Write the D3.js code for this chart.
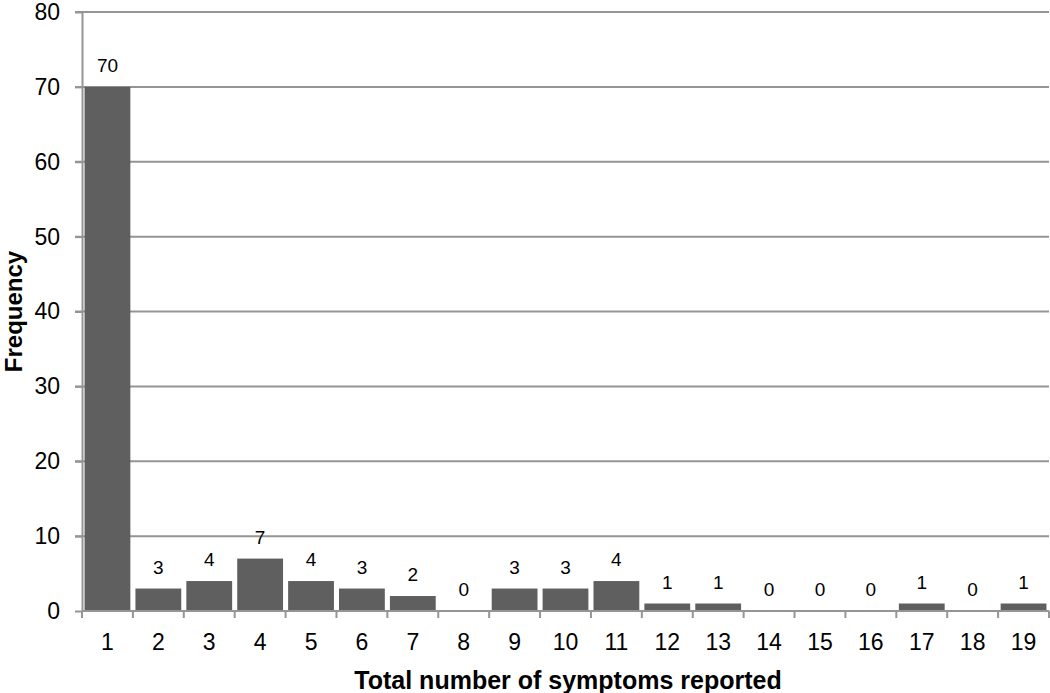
<!DOCTYPE html>
<html>
<head>
<meta charset="utf-8">
<script src="https://cdn.jsdelivr.net/npm/d3@7"></script>
<style>
  body { margin: 0; background: #fff; }
  svg text { font-family: "Liberation Sans", Arial, sans-serif; fill: #000; }
</style>
</head>
<body>
<div id="chart"></div>
<script>
const categories = ['1','2','3','4','5','6','7','8','9','10','11','12','13','14','15','16','17','18','19'];
const frequency = [70, 3, 4, 7, 4, 3, 2, 0, 3, 3, 4, 1, 1, 0, 0, 0, 1, 0, 1];
const yTicks = [0, 10, 20, 30, 40, 50, 60, 70, 80];

const W = 1050, H = 693;
const pad = {l: 82, r: 1, t: 12, b: 82};
const gridColor = '#959595';

const svg = d3.select('#chart').append('svg')
  .attr('width', W).attr('height', H);

const x = d3.scaleBand()
  .domain(categories)
  .range([pad.l, W - pad.r])
  .paddingInner(0.1)
  .paddingOuter(0.05);

const y = d3.scaleLinear()
  .domain([0, 80])
  .range([H - pad.b, pad.t]);

// gridlines
svg.append('g')
  .selectAll('line')
  .data(yTicks.filter(t => t > 0))
  .join('line')
  .attr('x1', pad.l - 7).attr('x2', W - pad.r)
  .attr('y1', d => y(d)).attr('y2', d => y(d))
  .attr('stroke', gridColor)
  .attr('stroke-width', 2);

// bars
svg.append('g')
  .selectAll('rect')
  .data(frequency)
  .join('rect')
  .attr('x', (d, i) => x(categories[i]))
  .attr('y', d => y(d))
  .attr('width', x.bandwidth())
  .attr('height', d => y(0) - y(d))
  .attr('fill', '#5f5f5f');

// value labels
svg.append('g')
  .selectAll('text')
  .data(frequency)
  .join('text')
  .attr('x', (d, i) => x(categories[i]) + x.bandwidth() / 2)
  .attr('y', d => y(d) - 15)
  .attr('text-anchor', 'middle')
  .attr('font-size', 19)
  .text(d => d);

// y axis
const yAxis = svg.append('g')
  .attr('transform', `translate(${pad.l},0)`)
  .call(d3.axisLeft(y).tickValues(yTicks).tickSize(7).tickPadding(15).tickSizeOuter(0));
yAxis.selectAll('text').attr('font-size', 23).style('font-family', '"Liberation Sans", Arial, sans-serif');
yAxis.select('.domain').attr('stroke', gridColor).attr('stroke-width', 2);
yAxis.selectAll('.tick line').attr('stroke', gridColor).attr('stroke-width', 2);

// x axis, ticks sit between categories
const xAxis = svg.append('g')
  .attr('transform', `translate(0,${y(0)})`);
xAxis.append('line')
  .attr('x1', pad.l).attr('x2', W - pad.r)
  .attr('stroke', gridColor).attr('stroke-width', 2);
const edges = categories.map(c => x(c) - x.step() * x.paddingInner() / 2)
  .concat([x(categories[categories.length - 1]) + x.bandwidth() + x.step() * x.paddingInner() / 2]);
xAxis.selectAll('.edge')
  .data(edges)
  .join('line')
  .attr('class', 'edge')
  .attr('x1', d => d).attr('x2', d => d)
  .attr('y1', 0).attr('y2', 7)
  .attr('stroke', gridColor).attr('stroke-width', 2);
xAxis.selectAll('.lbl')
  .data(categories)
  .join('text')
  .attr('class', 'lbl')
  .attr('x', d => x(d) + x.bandwidth() / 2)
  .attr('y', 39)
  .attr('text-anchor', 'middle')
  .attr('font-size', 23)
  .text(d => d);

// axis titles
svg.append('text')
  .attr('x', 568).attr('y', 689)
  .attr('text-anchor', 'middle')
  .attr('font-size', 25)
  .attr('font-weight', 'bold')
  .text('Total number of symptoms reported');

svg.append('text')
  .attr('transform', `translate(22,${(y(0) + y(80)) / 2}) rotate(-90)`)
  .attr('text-anchor', 'middle')
  .attr('font-size', 24)
  .attr('font-weight', 'bold')
  .text('Frequency');
</script>
</body>
</html>
